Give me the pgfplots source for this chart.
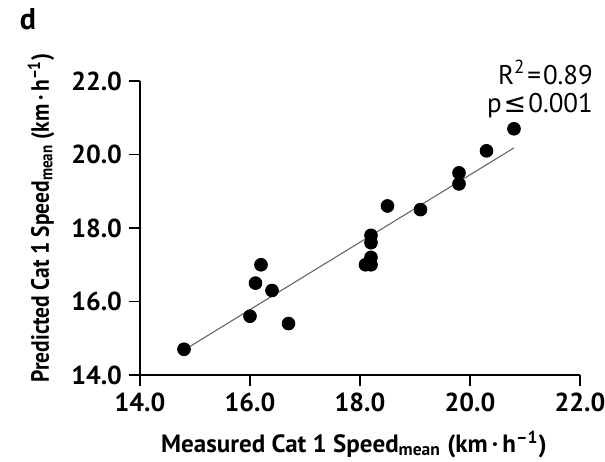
\documentclass[border=0pt]{standalone}
\usepackage{fontspec}
\setmainfont{PT Sans}
\newfontfamily\dejavu{DejaVu Sans}
\usepackage{graphicx}
\usepackage{pgfplots}
\pgfplotsset{compat=1.18}
\usetikzlibrary{calc}
\begin{document}
\begin{tikzpicture}
\begin{axis}[
  name=ax,
  scale only axis,
  width=220pt, height=147pt,
  xmin=14, xmax=22, ymin=14, ymax=22,
  axis lines=left,
  axis line style={line width=0.9pt, -},
  xtick={14,16,18,20,22}, ytick={14,16,18,20,22},
  tick align=outside,
  major tick length=5.5pt,
  tick style={line width=0.9pt, black},
  /pgf/number format/assume math mode=true,
  /pgf/number format/.cd, fixed, fixed zerofill, precision=1, /pgfplots/.cd,
  tick label style={font=\fontsize{13}{15}\selectfont\bfseries},
  clip=false,
]
\addplot[gray!80!black, line width=0.55pt] coordinates {(14.9,14.77) (20.8,20.18)};
\addplot[only marks, mark=*, mark size=3.2pt, black] coordinates {
(14.8,14.7)
(16.0,15.6)
(16.1,16.5)
(16.2,17.0)
(16.4,16.3)
(16.7,15.4)
(18.1,17.0)
(18.2,17.0)
(18.2,17.2)
(18.2,17.6)
(18.2,17.8)
(18.5,18.6)
(19.1,18.5)
(19.8,19.2)
(19.8,19.5)
(20.3,20.1)
(20.8,20.7)
};
\end{axis}
\node[font=\fontsize{15}{18}\selectfont\bfseries] at ($(ax.north west)+(-56pt,31pt)$) {d};
\node[font=\fontsize{12.5}{14}\selectfont\bfseries, anchor=base] at ($(ax.south west)+(107pt,-38.5pt)$)
  {Measured Cat 1 Speed\textsubscript{mean} (km\,·\,h\textsuperscript{–1})};
\node[font=\fontsize{12.5}{14}\selectfont\bfseries, rotate=90, anchor=center] at ($(ax.south west)+(-49.5pt,78.5pt)$)
  {\scalebox{0.86}[1]{Predicted Cat 1 Speed\textsubscript{mean} (km\,·\,h\textsuperscript{–1})}};
\node[font=\fontsize{13.5}{14}\selectfont, align=right, anchor=east] at ($(ax.north east)+(10pt,-4pt)$)
  {R\textsuperscript{2}\kern1pt=\kern1pt0.89\\p\kern1pt{\dejavu ≤}\kern1pt0.001};
\pgfresetboundingbox
\path[use as bounding box] ($(ax.south west)+(-70pt,-43pt)$) rectangle ($(ax.north east)+(12.5pt,40.5pt)$);
\end{tikzpicture}
\end{document}
